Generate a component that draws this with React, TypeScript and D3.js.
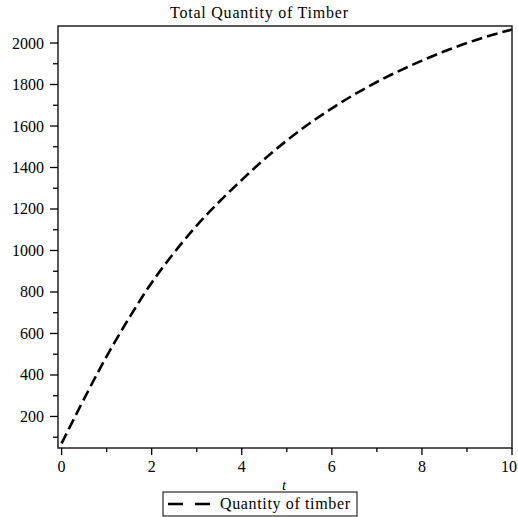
import React from "react";
import * as d3 from "d3";

const tValues = [0, 0.5, 1, 1.5, 2, 2.5, 3, 3.5, 4, 4.5, 5, 5.5, 6, 6.5, 7, 7.5, 8, 8.5, 9, 9.5, 10];
const quantity = [70, 285, 490, 675, 845, 990, 1120, 1235, 1340, 1440, 1530, 1612, 1685, 1752, 1812, 1866, 1915, 1960, 2000, 2035, 2065];
const xMajorTicks = [0, 2, 4, 6, 8, 10];
const xMinorTicks = [1, 3, 5, 7, 9];
const yMajorTicks = [200, 400, 600, 800, 1000, 1200, 1400, 1600, 1800, 2000];
const yMinorTicks = [100, 300, 500, 700, 900, 1100, 1300, 1500, 1700, 1900];
const title = "Total Quantity of Timber";
const xLabel = "t";
const legendLabel = "Quantity of timber";

const W = 518;
const H = 517;
const left = 58;
const right = 512;
const top = 26;
const bottom = 448;
const font = "'Liberation Serif', 'Times New Roman', serif";

export default function App() {
  const x = d3.scaleLinear().domain([-0.08, 10]).range([left, right]);
  const y = d3.scaleLinear().domain([48, 2082]).range([bottom, top]);
  const pts: [number, number][] = tValues.map((t, i) => [t, quantity[i]]);
  const line = d3
    .line<[number, number]>()
    .x((d) => x(d[0]))
    .y((d) => y(d[1]))
    .curve(d3.curveCatmullRom);

  return (
    <svg width={W} height={H} style={{ position: "absolute", left: 0, top: 0, background: "#fff" }}>
      <rect x={0} y={0} width={W} height={H} fill="#fff" />
      <text x={170} y={18} fontFamily={font} fontSize={16} textLength={178} lengthAdjust="spacing" fill="#000">
        {title}
      </text>
      <path d={line(pts) || ""} fill="none" stroke="#000" strokeWidth={2.6} strokeDasharray="11,5" />
      <rect x={left} y={top} width={right - left} height={bottom - top} fill="none" stroke="#222" strokeWidth={1.5} />
      {yMajorTicks.map((v) => (
        <g key={"ym" + v}>
          <line x1={left - 8} x2={left} y1={y(v)} y2={y(v)} stroke="#000" strokeWidth={1.3} />
          <text x={left - 14} y={y(v) + 5.5} textAnchor="end" fontFamily={font} fontSize={16} fill="#000">
            {v}
          </text>
        </g>
      ))}
      {yMinorTicks.map((v) => (
        <line key={"yn" + v} x1={left - 5} x2={left} y1={y(v)} y2={y(v)} stroke="#000" strokeWidth={1.3} />
      ))}
      {xMajorTicks.map((v) => {
        const isLast = v === xMajorTicks[xMajorTicks.length - 1];
        return (
          <g key={"xm" + v}>
            <line x1={x(v)} x2={x(v)} y1={bottom} y2={bottom + 7} stroke="#000" strokeWidth={1.3} />
            <text
              x={isLast ? W - 1 : x(v)}
              y={472}
              textAnchor={isLast ? "end" : "middle"}
              fontFamily={font}
              fontSize={16}
              fill="#000"
            >
              {v}
            </text>
          </g>
        );
      })}
      {xMinorTicks.map((v) => (
        <line key={"xn" + v} x1={x(v)} x2={x(v)} y1={bottom} y2={bottom + 4} stroke="#000" strokeWidth={1.3} />
      ))}
      <text x={(left + right) / 2 - 1} y={490} textAnchor="middle" fontFamily={font} fontSize={15} fontStyle="italic" fill="#000">
        {xLabel}
      </text>
      <rect x={163} y={492} width={194} height={24} fill="#fff" stroke="#000" strokeWidth={1} />
      <line x1={168} x2={211} y1={504} y2={504} stroke="#000" strokeWidth={2.6} strokeDasharray="15,12" />
      <text x={220} y={509} fontFamily={font} fontSize={16} textLength={130} lengthAdjust="spacing" fill="#000">
        {legendLabel}
      </text>
    </svg>
  );
}
